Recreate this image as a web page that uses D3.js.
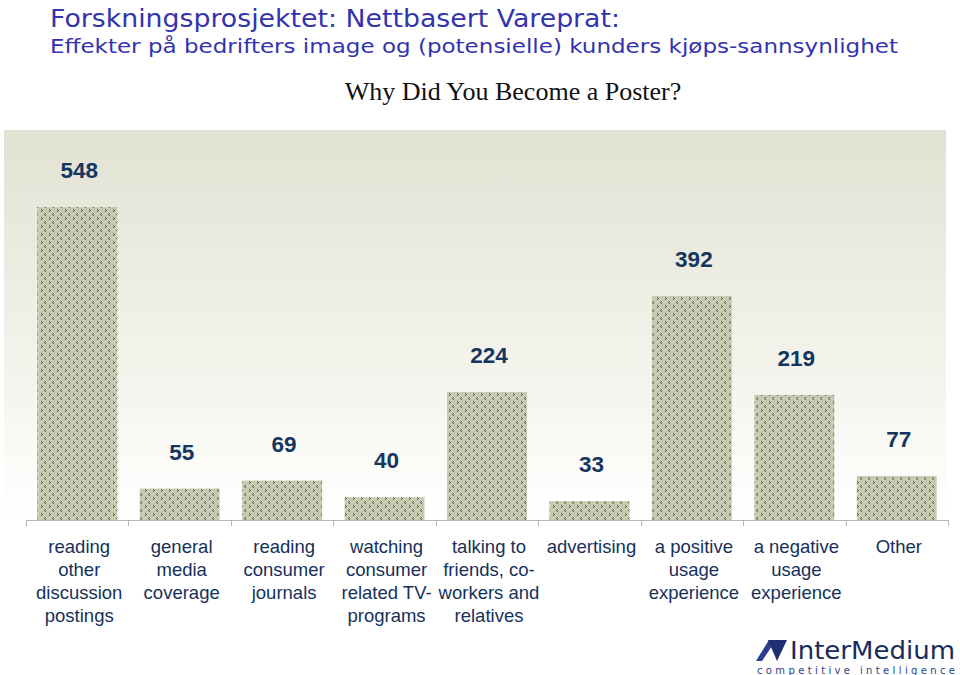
<!DOCTYPE html>
<html><head><meta charset="utf-8">
<script src="https://cdn.jsdelivr.net/npm/d3@7/dist/d3.min.js"></script>
<style>body{margin:0;background:#fff}svg{display:block}</style>
</head><body>
<svg id="c" width="960" height="675"></svg>
<script>
const categories = [
  ["reading","other","discussion","postings"],
  ["general","media","coverage"],
  ["reading","consumer","journals"],
  ["watching","consumer","related TV-","programs"],
  ["talking to","friends, co-","workers and","relatives"],
  ["advertising"],
  ["a positive","usage","experience"],
  ["a negative","usage","experience"],
  ["Other"]
];
const values = [548, 55, 69, 40, 224, 33, 392, 219, 77];
const title1 = "Forskningsprosjektet: Nettbasert Vareprat:";
const title2 = "Effekter på bedrifters image og (potensielle) kunders kjøps-sannsynlighet";
const chartTitle = "Why Did You Become a Poster?";

const svg = d3.select("#c");
const defs = svg.append("defs");
const grad = defs.append("linearGradient").attr("id","bg").attr("x1",0).attr("y1",0).attr("x2",0).attr("y2",1);
grad.append("stop").attr("offset","0%").attr("stop-color","#e1e2d3");
grad.append("stop").attr("offset","55%").attr("stop-color","#f2f2ea");
grad.append("stop").attr("offset","100%").attr("stop-color","#ffffff");

const pat = defs.append("pattern").attr("id","dots").attr("patternUnits","userSpaceOnUse")
  .attr("width",8).attr("height",8);
pat.append("rect").attr("width",8).attr("height",8).attr("fill","#c9cab2");
[[1,1],[2,2],[1,3],[5,5],[4,6],[5,7]].forEach(([x,y])=>{
  pat.append("rect").attr("x",x).attr("y",y).attr("width",1).attr("height",1).attr("fill","#55574a");
});

svg.append("rect").attr("x",4).attr("y",130).attr("width",942).attr("height",392).attr("fill","url(#bg)");

const x = d3.scaleBand().domain(d3.range(values.length)).range([26,948]).paddingInner(0.22).paddingOuter(0.11);
const base = 520;
const y = d3.scaleLinear().domain([0,548]).range([base,207]);

svg.append("g").selectAll("rect").data(values).join("rect")
  .attr("x",(d,i)=>x(i)).attr("width",x.bandwidth())
  .attr("y",d=>y(d)).attr("height",d=>base-y(d))
  .attr("fill","url(#dots)");

// axis
const ax = svg.append("g").attr("stroke","#b8b8b8").attr("stroke-width",1);
ax.append("line").attr("x1",26).attr("x2",948).attr("y1",base+0.5).attr("y2",base+0.5);
d3.range(values.length+1).forEach(i=>{
  const xx = Math.round(26 + i*(922/values.length))+0.5;
  ax.append("line").attr("x1",xx).attr("x2",xx).attr("y1",base).attr("y2",base+6);
});

svg.append("g").selectAll("text").data(values).join("text")
  .attr("x",(d,i)=>x(i)+x.bandwidth()/2+2).attr("y",d=>y(d)-29)
  .attr("text-anchor","middle").attr("font-family","Liberation Sans, Arial, sans-serif")
  .attr("font-weight","bold").attr("font-size",22.5).attr("fill","#15355f").text(d=>d);

const lab = svg.append("g").attr("font-family","Liberation Sans, Arial, sans-serif")
  .attr("font-size",18.5).attr("fill","#15315a").attr("text-anchor","middle");
categories.forEach((lines,i)=>{
  const t = lab.append("text").attr("x",x(i)+x.bandwidth()/2+2).attr("y",553);
  lines.forEach((l,j)=>t.append("tspan").attr("x",x(i)+x.bandwidth()/2+2).attr("dy",j?23:0).text(l));
});

svg.append("text").attr("x",50).attr("y",27).attr("font-family","DejaVu Sans, Verdana, sans-serif")
  .attr("font-size",24).attr("fill","#3333b0").attr("textLength",570).attr("lengthAdjust","spacingAndGlyphs").text(title1);
svg.append("text").attr("x",50).attr("y",53).attr("font-family","DejaVu Sans, Verdana, sans-serif")
  .attr("font-size",20).attr("fill","#3333b0").attr("textLength",848).attr("lengthAdjust","spacingAndGlyphs").text(title2);
svg.append("text").attr("x",513).attr("y",100).attr("text-anchor","middle")
  .attr("font-family","Liberation Serif, Times New Roman, serif").attr("font-size",26).attr("fill","#111").text(chartTitle);

// logo
const logo = svg.append("g");
logo.append("path").attr("d","M756,661 L769,640 L772,646 L762,661 Z").attr("fill","#2a3f8c");
logo.append("path").attr("d","M768,640 L787,640 L777,661 Z").attr("fill","#1f2f70");
logo.append("text").attr("x",790).attr("y",659).attr("font-family","DejaVu Sans, Verdana, sans-serif")
  .attr("font-size",24).attr("fill","#1a2a5a").attr("textLength",165).attr("lengthAdjust","spacingAndGlyphs").text("InterMedium");
logo.append("text").attr("x",757).attr("y",674).attr("font-family","DejaVu Sans, Verdana, sans-serif")
  .attr("font-size",10).attr("textLength",198).attr("lengthAdjust","spacing").attr("fill","#2a3f8c").text("competitive intelligence");
</script>
</body></html>
